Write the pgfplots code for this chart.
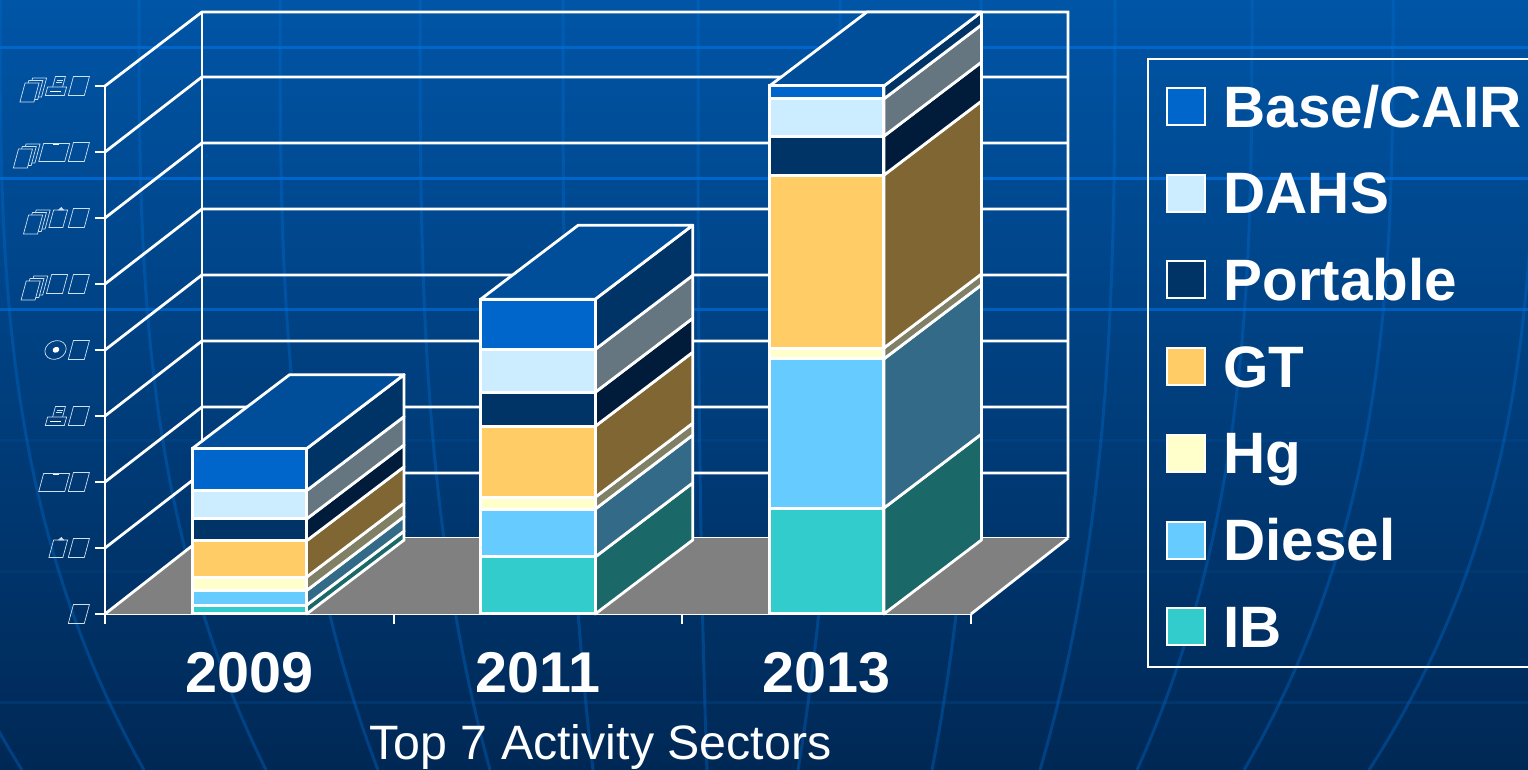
\documentclass[border=0pt]{standalone}
\usepackage{pgfplots}
\usepackage{pgfplotstable}
\usepackage{fontspec}
\setmainfont{Liberation Sans}
\pgfplotsset{compat=1.18}
\definecolor{bgtop}{HTML}{0055A6}
\definecolor{bgbot}{HTML}{002855}
\definecolor{ib}{HTML}{33CCCC}\definecolor{ibS}{HTML}{1B6868}
\definecolor{di}{HTML}{66CCFF}\definecolor{diS}{HTML}{336A88}
\definecolor{hg}{HTML}{FFFFCC}\definecolor{hgS}{HTML}{808066}
\definecolor{gt}{HTML}{FFCC66}\definecolor{gtS}{HTML}{806633}
\definecolor{po}{HTML}{003366}\definecolor{poS}{HTML}{001C3A}
\definecolor{da}{HTML}{CCECFF}\definecolor{daS}{HTML}{667680}
\definecolor{ba}{HTML}{0066CC}\definecolor{baS}{HTML}{003366}
\definecolor{baT}{HTML}{004D99}
\definecolor{glyph}{HTML}{CFE0F0}
\pgfplotstableread{
idx IB Diesel Hg GT Portable DAHS Base
0 2.7 4.4 4.1 11.0 6.6 8.6 12.7
1 17.3 14.5 3.6 21.5 10.3 13.0 15.2
2 32.1 45.2 3.3 52.4 11.8 11.3 3.9
}\datatable
% one side face of a stacked block: row, column, colour
\newcommand\seg[3]{%
  \pgfplotstablegetelem{#1}{#2}\of\datatable
  \pgfmathsetmacro\segHi{\segLo+\pgfplotsretval}%
  \pgfmathsetmacro\segLoB{\segLo+22.42}%
  \pgfmathsetmacro\segHiB{\segHi+22.42}%
  \addplot[fill=#3,draw=white,line width=2.8pt,line join=round] coordinates {(\segXr,\segLo)(\segXrB,\segLoB)(\segXrB,\segHiB)(\segXr,\segHi)} --cycle;
  \let\segLo\segHi
}
\newcommand\block[1]{%
  \pgfmathsetmacro\segXl{#1-0.1983}%
  \pgfmathsetmacro\segXr{#1+0.1983}%
  \pgfmathsetmacro\segXrB{#1+0.1983+0.3378}%
  \pgfmathsetmacro\segXlB{#1-0.1983+0.3378}%
  \def\segLo{0}%
  \seg{#1}{IB}{ibS}\seg{#1}{Diesel}{diS}\seg{#1}{Hg}{hgS}\seg{#1}{GT}{gtS}%
  \seg{#1}{Portable}{poS}\seg{#1}{DAHS}{daS}\seg{#1}{Base}{baS}%
  \pgfmathsetmacro\segHiB{\segLo+22.42}%
  \addplot[fill=baT,draw=white,line width=2.8pt,line join=round] coordinates {(\segXl,\segLo)(\segXr,\segLo)(\segXrB,\segHiB)(\segXlB,\segHiB)} --cycle;
}
% the picture-font digits of the original's value axis
\tikzset{gl/.style={x=1pt,y=1pt,baseline=0pt,line width=0.7pt,draw=glyph,cm={1,0,0.27,1,(0,0)}}}
\newcommand\wZ{\tikz[gl]{\draw[glyph] (0,-9.5) rectangle (16,9.5);}}
\newcommand\wA{\tikz[gl]{\draw[glyph] (0,-16) rectangle (14,3);\draw[glyph] (3.1,3) -- (3.1,5.5) -- (17.1,5.5) -- (17.1,-13.5) -- (14,-13.5);\draw[glyph] (6.2,5.5) -- (6.2,8) -- (20.2,8) -- (20.2,-11) -- (17.1,-11);}\hspace{-2pt}}
\newcommand\wB{\tikz[gl]{\draw[glyph] (0,-9.5) rectangle (14,8);\draw[glyph,fill=glyph] (5,8) -- (7,10.5) -- (10,8) -- cycle;}}
\newcommand\wD{\tikz[gl]{\draw[glyph] (0,-9.5) rectangle (26,8.5);\draw[white,line width=1.8pt] (10,7.5) -- (16,7.5);}\hspace{-2pt}}
\newcommand\wF{\tikz[gl]{\draw[glyph] (0,-9.5) rectangle (19,-1);\draw[white,line width=1.6pt] (4,-5.5) -- (15,-5.5);\draw[glyph] (5,-1) -- (5,9.5) -- (15,9.5) -- (15,-1);\draw[glyph] (7,6) -- (13,6) (7,3.5) -- (13,3.5);}\hspace{1pt}}
\newcommand\wH{\tikz[x=1pt,y=1pt,baseline=0pt]{\draw[glyph,line width=0.7pt,rotate=25] (0,0) ellipse (11 and 9);\fill[white,rotate=25] (0.5,0) ellipse (3.5 and 2.8);}}
\begin{document}
\begin{tikzpicture}
\useasboundingbox (0pt,0pt) rectangle (1528pt,770pt);
\begin{scope}[x=1pt,y=1pt]
\shade[top color=bgtop,bottom color=bgbot,shading angle=0] (0,0) rectangle (1528,770);
% horizontals of the slide's backdrop (y measured from the top edge)
\begin{scope}[yshift=770pt,line width=3pt]
\draw[color=ba] (0,-48) -- (1528,-48) (0,-179) -- (1528,-179);
\draw[color={rgb,255:red,0;green,94;blue,190}] (0,-310) -- (1528,-310);
\draw[color={rgb,255:red,0;green,64;blue,128}] (0,-441) -- (1528,-441);
\draw[color={rgb,255:red,0;green,56;blue,112}] (0,-572) -- (1528,-572);
\draw[color={rgb,255:red,0;green,53;blue,110}] (0,-703) -- (1528,-703);
% meridians of the backdrop
\definecolor{mer}{HTML}{006ED2}
\foreach \a/\b in {-139/22,0/144,139/266,280/378,420/490,563/593,698/707,840/798,981/932,1115/1040,1252/1137,1393/1244,1535/1369}{
  \draw[mer,opacity=0.36] (\a,0) .. controls (\a,-256.7) and (\a,-513.3) .. (\b,-770);
}
\end{scope}
\end{scope}
% walls, floor, ticks, side and top faces
\begin{axis}[
  at={(105pt,156pt)},anchor=south west,
  scale only axis,width=866pt,height=528pt,
  xmin=-0.5,xmax=2.5,ymin=0,ymax=160,
  clip=false,
  axis lines=left,
  axis line style={-,white,line width=2.8pt},
  tick align=outside,
  major tick length=10pt,minor tick length=10pt,
  xtick={0,1,2},
  xticklabels={2009,2011,2013},
  minor xtick={-0.5,0.5,1.5,2.5},
  xtick style={draw=none},
  minor x tick style={draw=white,line width=2pt},
  ytick={0,20,...,160},
  ytick style={draw=white,line width=2.5pt},
  yticklabels={\wZ,\wB\wZ,\wD\wZ,\wF\wZ,\wH\wZ,\wA\wZ\wZ,\wA\wB\wZ,\wA\wD\wZ,\wA\wF\wZ},
  yticklabel style={anchor=base east,inner sep=0pt,xshift=-5pt},
  xticklabel style={anchor=base,text=white,font=\fontsize{57.5}{58}\selectfont\bfseries,yshift=-69pt},
  xlabel={Top 7 Activity Sectors},
  xlabel style={at={(axis description cs:0.5722,-0.2756)},anchor=base,text=white,font=\fontsize{48.3}{50}\selectfont},
]
\addplot[white,line width=2.8pt] coordinates {(-0.164,23)(2.836,23)};
\addplot[white,line width=2.8pt] coordinates {(-0.5,20)(-0.164,42.75)(2.836,42.75)};
\addplot[white,line width=2.8pt] coordinates {(-0.5,40)(-0.164,62.75)(2.836,62.75)};
\addplot[white,line width=2.8pt] coordinates {(-0.5,60)(-0.164,82.75)(2.836,82.75)};
\addplot[white,line width=2.8pt] coordinates {(-0.5,80)(-0.164,102.75)(2.836,102.75)};
\addplot[white,line width=2.8pt] coordinates {(-0.5,100)(-0.164,122.75)(2.836,122.75)};
\addplot[white,line width=2.8pt] coordinates {(-0.5,120)(-0.164,142.75)(2.836,142.75)};
\addplot[white,line width=2.8pt] coordinates {(-0.5,140)(-0.164,162.75)(2.836,162.75)};
\addplot[white,line width=2.8pt] coordinates {(-0.5,160)(-0.164,182.42)(2.836,182.42)(2.836,23)};
\addplot[white,line width=2.8pt] coordinates {(-0.164,23)(-0.164,182.42)};
\addplot[fill={rgb,255:red,128;green,128;blue,128},draw=none] coordinates {(-0.5,0)(2.5,0)(2.836,23)(-0.164,23)} --cycle;
\addplot[white,line width=2.8pt] coordinates {(-0.5,0)(-0.164,23)};
\addplot[white,line width=2.8pt] coordinates {(2.5,0)(2.836,23)};
\block{0}
\block{1}
\block{2}
\end{axis}
% front faces and legend
\begin{axis}[
  at={(105pt,156pt)},anchor=south west,
  scale only axis,width=866pt,height=528pt,
  xmin=-0.5,xmax=2.5,ymin=0,ymax=160,
  clip=false,
  axis lines=none,
  ybar stacked,
  bar width=114.5pt,
  reverse legend,
  legend image code/.code={\draw[#1,draw=white,line width=2pt] (0pt,2pt) rectangle (38pt,39pt);},
  legend style={
    at={(axis description cs:1.2027,1.0530)},anchor=north west,
    draw=white,line width=2pt,fill=none,text=white,
    font=\fontsize{58.4}{60}\selectfont\bfseries,
    inner xsep=18pt,inner ysep=10pt,
    row sep=18.7pt,
    column sep=14pt,
    cells={anchor=base west},
    nodes={inner xsep=4pt,inner ysep=0pt,text height=58pt,text depth=10pt},
  },
]
\addplot[fill=ib,draw=white,line width=3pt] table[x=idx,y=IB] {\datatable};
\addlegendentry{IB}
\addplot[fill=di,draw=white,line width=3pt] table[x=idx,y=Diesel] {\datatable};
\addlegendentry{Diesel}
\addplot[fill=hg,draw=white,line width=3pt] table[x=idx,y=Hg] {\datatable};
\addlegendentry{Hg}
\addplot[fill=gt,draw=white,line width=3pt] table[x=idx,y=GT] {\datatable};
\addlegendentry{GT}
\addplot[fill=po,draw=white,line width=3pt] table[x=idx,y=Portable] {\datatable};
\addlegendentry{Portable}
\addplot[fill=da,draw=white,line width=3pt] table[x=idx,y=DAHS] {\datatable};
\addlegendentry{DAHS}
\addplot[fill=ba,draw=white,line width=3pt] table[x=idx,y=Base] {\datatable};
\addlegendentry{Base/CAIR}
\end{axis}
\end{tikzpicture}
\end{document}
